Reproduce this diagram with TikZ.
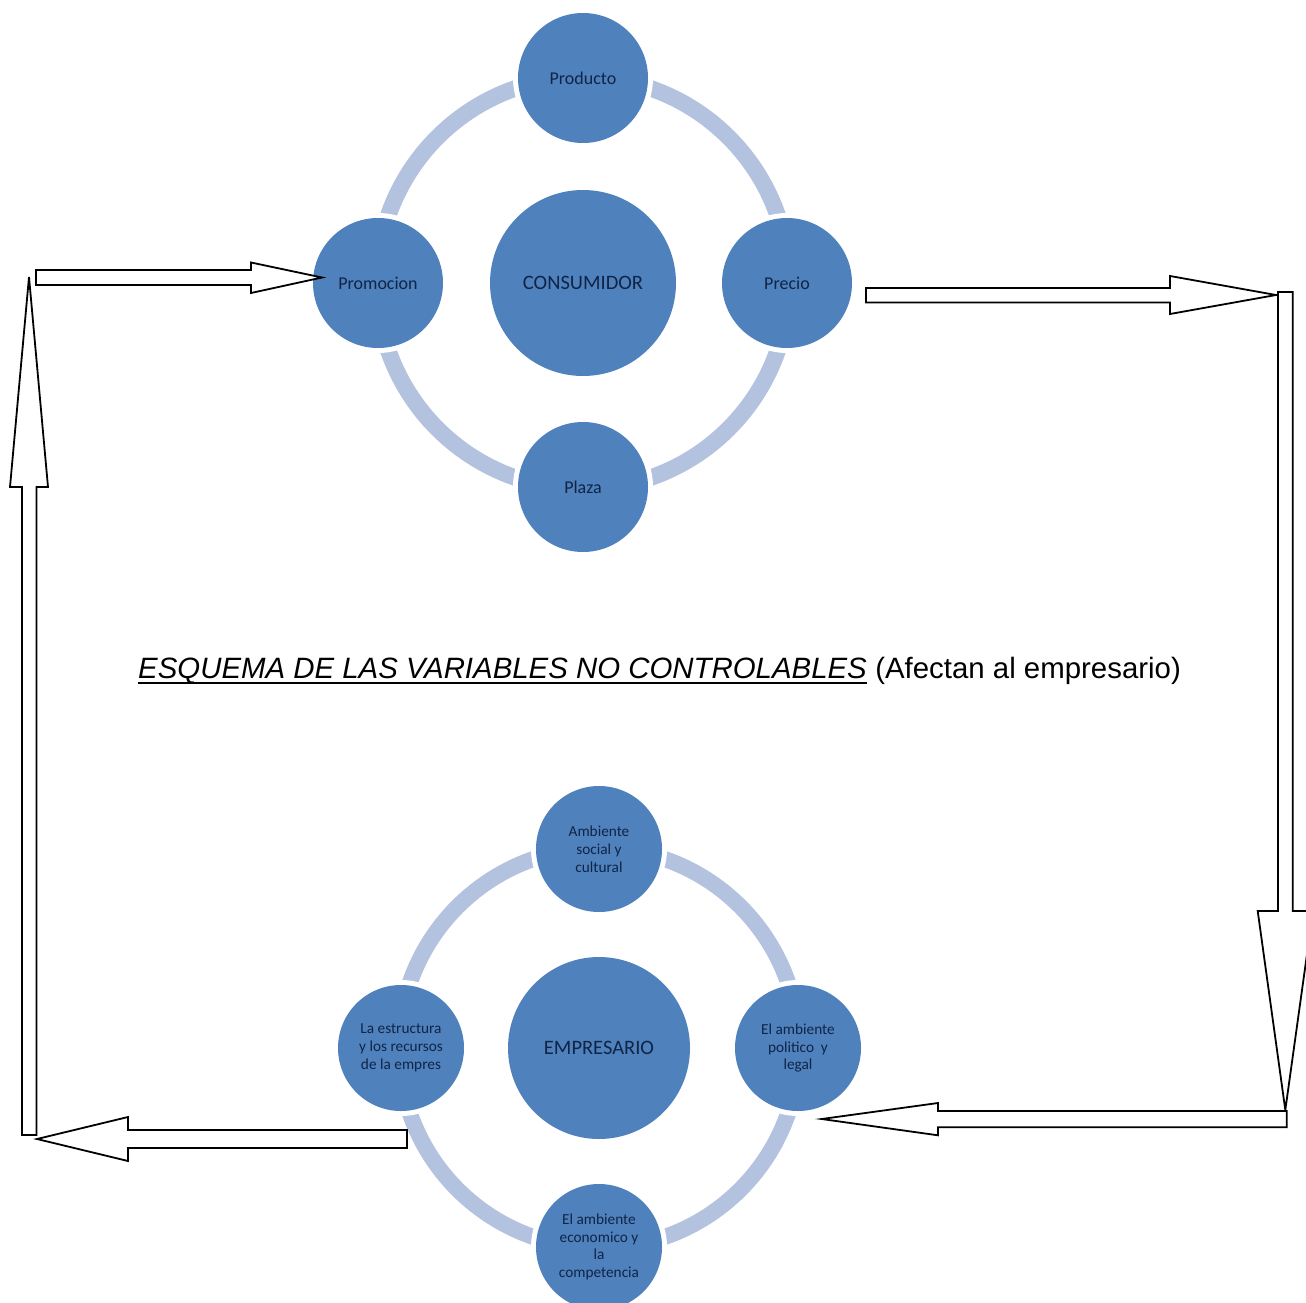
\documentclass[tikz,border=0pt]{standalone}
\usepackage{fontspec}
\newfontfamily\calib{Carlito}
\newfontfamily\arialf{Liberation Sans}
\definecolor{cfill}{RGB}{79,129,189}
\definecolor{cring}{RGB}{179,194,222}
\definecolor{ctext}{RGB}{16,36,70}
\begin{document}
\begin{tikzpicture}[x=1pt,y=-1pt,
  sat/.style={circle, fill=cfill, inner sep=0pt, minimum size=#1,
    preaction={draw=white,line width=10pt}, text=ctext, align=center},
  bigc/.style={circle, fill=cfill, inner sep=0pt, minimum size=#1, text=ctext, align=center},
  fbig/.style={font=\calib\fontsize{20.5}{24}\selectfont},
  ftop/.style={font=\calib\fontsize{18}{21}\selectfont},
  fbot/.style={font=\calib\fontsize{15.3}{17.8}\selectfont},
  ringc/.style={draw=cring, line width=#1},
  blockarrow/.style={draw=black, fill=white, line width=1.8pt, line join=miter}
]
\useasboundingbox (0,0) rectangle (1306,1303);

% ---------- top cluster ----------
\coordinate (c1) at (583,283);
\draw[ringc=16.5pt] (c1) circle[radius=206pt];
\node[sat=130pt, ftop] (prod) at (583,78) {Producto};
\node[sat=130pt, ftop] (promo) at (378,283) {Promocion};
\node[sat=130pt, ftop] (precio) at (787,283) {Precio};
\node[sat=130pt, ftop] (plaza) at (583,487) {Plaza};
\node[bigc=186pt, fbig] (cons) at (c1) {CONSUMIDOR};

% ---------- bottom cluster ----------
\coordinate (c2) at (599,1048);
\draw[ringc=16pt] (c2) circle[radius=200pt];
\node[sat=126pt, fbot] (soc) at (599,849) {Ambiente\\social y\\cultural};
\node[sat=126pt, fbot] (estr) at (401,1048) {La estructura\\y los recursos\\de la empres};
\node[sat=126pt, fbot] (pol) at (798,1048) {El ambiente\\politico~ y\\legal};
\node[sat=126pt, fbot] (eco) at (599,1247) {El ambiente\\economico y\\la\\competencia};
\node[bigc=182pt, fbig] (emp) at (c2) {EMPRESARIO};

% ---------- title ----------
\node[anchor=base west, inner sep=0pt, font=\arialf\itshape\fontsize{29.4}{34}\selectfont] (t1) at (138,678)
  {ESQUEMA DE LAS VARIABLES NO CONTROLABLES};
\draw[line width=2pt] ([yshift=-4.7pt]t1.base west) -- ([yshift=-4.7pt]t1.base east);
\node[anchor=base west, inner sep=0pt, xshift=8pt, font=\arialf\fontsize{29.4}{34}\selectfont] (t2) at (t1.base east)
  {(Afectan al empresario)};

% ---------- block arrows ----------
\coordinate (tipA) at (322,277.5);
\draw[blockarrow] (36,270) -- (251,270) -- (251,262.5) -- (tipA) -- (251,293) -- (251,285) -- (36,285) -- cycle;

\coordinate (tipB) at (29,277);
\draw[blockarrow] (22,1135) -- (22,487) -- (10,487) -- (tipB) -- (48,487) -- (36.5,487) -- (36.5,1135) -- cycle;

\coordinate (tipC) at (37,1139);
\draw[blockarrow] (407,1130) -- (128,1130) -- (128,1117) -- (tipC) -- (128,1161) -- (128,1148) -- (407,1148) -- cycle;

\coordinate (tipD) at (1276,295);
\draw[blockarrow] (866,288) -- (1170,288) -- (1170,276) -- (tipD) -- (1170,314) -- (1170,302.5) -- (866,302.5) -- cycle;

\coordinate (tipE) at (1285.3,1110);
\draw[blockarrow] (1278,292) -- (1292.7,292) -- (1292.7,911) -- (1313,911) -- (tipE) -- (1257.7,911) -- (1278,911) -- cycle;

\coordinate (tipF) at (821.7,1119);
\draw[blockarrow] (1286.7,1111) -- (938,1111) -- (938,1103) -- (tipF) -- (938,1135.3) -- (938,1127.3) -- (1286.7,1127.3) -- cycle;
\end{tikzpicture}
\end{document}
